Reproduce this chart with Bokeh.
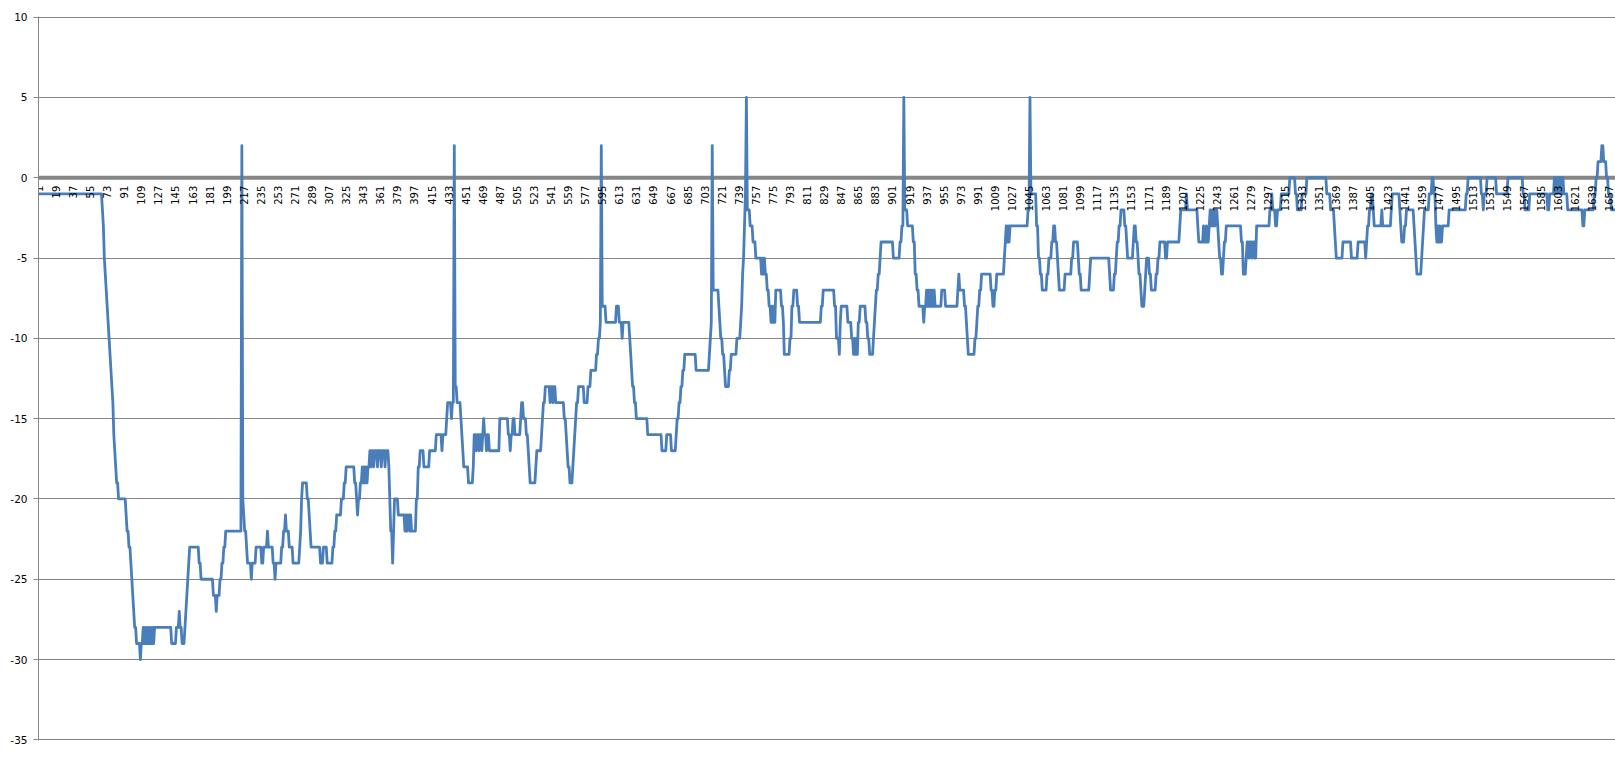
from math import pi

from bokeh.core.properties import value
from bokeh.embed import file_html
from bokeh.models import PrintfTickFormatter, Range1d, SingleIntervalTicker, Span
from bokeh.plotting import figure
from bokeh.resources import INLINE


# series: each value holds from its start category
# until the next start category (the data are whole numbers)
step_start = [
    1, 68, 69, 70, 71, 72, 73, 74, 75, 76, 77, 78, 79, 80, 81, 82, 83, 85, 93, 94,
    96, 98, 99, 100, 101, 102, 104, 108, 109, 111, 112, 113, 114, 115, 116, 117, 118, 119, 120, 121,
    122, 123, 141, 146, 149, 150, 152, 155, 156, 157, 158, 159, 160, 170, 172, 185, 188, 189, 192, 194,
    196, 198, 215, 216, 217, 218, 220, 221, 225, 226, 230, 236, 238, 242, 243, 248, 250, 251, 257, 259,
    261, 262, 265, 269, 276, 277, 278, 279, 284, 286, 287, 288, 298, 301, 305, 311, 313, 315, 320, 323,
    325, 334, 336, 337, 338, 340, 342, 343, 344, 345, 346, 347, 348, 350, 351, 352, 354, 355, 358, 359,
    362, 363, 366, 367, 370, 371, 372, 374, 375, 376, 380, 387, 388, 389, 390, 392, 393, 394, 399, 401,
    403, 407, 413, 420, 426, 427, 431, 432, 436, 437, 439, 440, 442, 446, 447, 448, 449, 454, 459, 460,
    462, 463, 465, 466, 468, 469, 470, 471, 473, 474, 476, 487, 496, 498, 499, 501, 503, 509, 510, 512,
    515, 517, 518, 519, 525, 526, 531, 532, 533, 535, 540, 541, 543, 544, 546, 555, 557, 558, 559, 561,
    564, 565, 566, 567, 568, 570, 576, 580, 583, 589, 591, 593, 594, 595, 599, 610, 613, 616, 617, 624,
    625, 626, 627, 629, 631, 643, 658, 663, 668, 673, 674, 676, 678, 680, 682, 694, 708, 709, 710, 711,
    712, 718, 719, 720, 722, 724, 725, 729, 731, 737, 741, 742, 743, 744, 745, 746, 747, 748, 751, 754,
    757, 763, 764, 765, 766, 767, 769, 771, 773, 774, 775, 776, 777, 778, 784, 786, 787, 793, 795, 797,
    801, 803, 826, 828, 840, 842, 845, 846, 847, 854, 858, 860, 861, 862, 863, 864, 865, 867, 873, 875,
    877, 881, 882, 883, 884, 886, 888, 889, 902, 909, 911, 913, 914, 917, 923, 925, 927, 929, 934, 935,
    937, 938, 939, 940, 941, 942, 943, 944, 945, 946, 953, 957, 970, 971, 972, 977, 979, 980, 981, 988,
    990, 991, 993, 995, 1005, 1007, 1009, 1011, 1019, 1020, 1021, 1022, 1023, 1024, 1025, 1044, 1046, 1047, 1053, 1055,
    1057, 1059, 1064, 1066, 1069, 1071, 1073, 1075, 1076, 1077, 1083, 1090, 1092, 1097, 1098, 1100, 1109, 1110, 1130, 1131,
    1135, 1137, 1138, 1140, 1142, 1146, 1148, 1149, 1155, 1156, 1158, 1160, 1161, 1163, 1164, 1167, 1168, 1169, 1172, 1174,
    1179, 1181, 1183, 1189, 1191, 1204, 1205, 1211, 1212, 1223, 1224, 1229, 1230, 1232, 1233, 1235, 1236, 1237, 1238, 1239,
    1240, 1241, 1242, 1244, 1245, 1246, 1248, 1250, 1251, 1253, 1269, 1271, 1274, 1275, 1277, 1278, 1280, 1281, 1283, 1285,
    1299, 1301, 1302, 1305, 1307, 1311, 1320, 1326, 1328, 1333, 1338, 1359, 1363, 1367, 1368, 1369, 1376, 1385, 1392, 1400,
    1401, 1402, 1404, 1406, 1408, 1409, 1417, 1418, 1427, 1428, 1436, 1437, 1438, 1441, 1443, 1451, 1452, 1453, 1454, 1459,
    1460, 1461, 1462, 1467, 1470, 1472, 1474, 1475, 1476, 1477, 1478, 1479, 1481, 1488, 1506, 1508, 1522, 1524, 1525, 1528,
    1538, 1550, 1566, 1568, 1573, 1592, 1594, 1599, 1601, 1603, 1605, 1606, 1607, 1608, 1609, 1613, 1629, 1631, 1641, 1643,
    1645, 1649, 1651, 1654, 1656, 1659,
]
step_value = [
    -1, -2, -3, -5, -6, -7, -8, -9, -10, -11, -12, -13, -14, -16, -17, -18, -19, -20, -21, -22,
    -23, -24, -25, -26, -27, -28, -29, -30, -29, -28, -29, -28, -29, -28, -29, -28, -29, -28, -29, -28,
    -29, -28, -29, -28, -27, -28, -29, -28, -27, -26, -25, -24, -23, -24, -25, -26, -27, -26, -25, -24,
    -23, -22, 2, -20, -21, -22, -23, -24, -25, -24, -23, -24, -23, -22, -23, -24, -25, -24, -23, -22,
    -21, -22, -23, -24, -23, -22, -20, -19, -20, -21, -22, -23, -24, -23, -24, -23, -22, -21, -20, -19,
    -18, -19, -20, -21, -20, -19, -18, -19, -18, -19, -18, -19, -18, -17, -18, -17, -18, -17, -18, -17,
    -18, -17, -18, -17, -18, -20, -22, -24, -22, -20, -21, -22, -21, -22, -21, -22, -21, -22, -20, -18,
    -17, -18, -17, -16, -17, -16, -15, -14, -15, -14, 2, -13, -14, -15, -16, -17, -18, -19, -18, -16,
    -17, -16, -17, -16, -17, -16, -15, -16, -17, -16, -17, -15, -16, -17, -16, -15, -16, -15, -14, -15,
    -16, -17, -18, -19, -18, -17, -16, -15, -14, -13, -14, -13, -14, -13, -14, -15, -16, -17, -18, -19,
    -18, -17, -16, -15, -14, -13, -14, -13, -12, -11, -10, -9, 2, -8, -9, -8, -9, -10, -9, -10,
    -11, -12, -13, -14, -15, -16, -17, -16, -17, -16, -15, -14, -13, -12, -11, -12, -11, -10, -9, 2,
    -7, -8, -9, -10, -11, -12, -13, -12, -11, -10, -9, -8, -6, -5, -3, -1, 5, -2, -3, -4,
    -5, -6, -5, -6, -5, -6, -7, -8, -9, -8, -9, -8, -9, -7, -8, -9, -11, -10, -8, -7,
    -8, -9, -8, -7, -8, -10, -11, -9, -8, -9, -10, -11, -10, -11, -10, -11, -9, -8, -9, -10,
    -11, -10, -9, -8, -7, -6, -5, -4, -5, -4, -3, 5, -2, -3, -4, -6, -7, -8, -9, -8,
    -7, -8, -7, -8, -7, -8, -7, -8, -7, -8, -7, -8, -7, -6, -7, -8, -9, -10, -11, -10,
    -9, -8, -7, -6, -7, -8, -7, -6, -5, -4, -3, -4, -3, -4, -3, -2, 5, -1, -3, -5,
    -6, -7, -6, -5, -4, -3, -4, -5, -6, -7, -6, -5, -4, -5, -6, -7, -6, -5, -6, -7,
    -6, -5, -4, -3, -2, -3, -4, -5, -4, -3, -4, -5, -6, -7, -8, -7, -6, -5, -6, -7,
    -6, -5, -4, -5, -4, -3, -2, -1, -2, -3, -4, -3, -4, -3, -4, -3, -2, -3, -2, -3,
    -2, -3, -2, -3, -4, -5, -6, -5, -4, -3, -4, -6, -5, -4, -5, -4, -5, -4, -5, -3,
    -2, -1, -2, -3, -2, -1, 0, -1, -2, -1, 0, -1, -2, -3, -4, -5, -4, -5, -4, -5,
    -4, -3, -2, -1, -2, -3, -2, -3, -2, -1, -2, -3, -4, -3, -2, -3, -4, -5, -6, -5,
    -4, -3, -2, -1, 0, -1, -3, -4, -3, -4, -3, -4, -3, -2, -1, 0, -1, -2, -1, 0,
    -1, 0, -1, -2, -1, -2, -1, 0, -1, 0, -1, 0, -1, 0, -1, -2, -3, -2, -1, 0,
    1, 2, 1, 0, -1, -2,
]
n_points = 1663
label_step = 18

categories = list(range(1, n_points + 1))
values = []
for i, start in enumerate(step_start):
    end = step_start[i + 1] if i + 1 < len(step_start) else n_points + 1
    values += [step_value[i]] * (end - start)

label_cats = categories[::label_step]
label_text = [str(c) for c in label_cats]

grey = "#868686"

p = figure(width=1615, height=771, output_backend="svg", toolbar_location=None,
           x_range=Range1d(0.58, 1663.4), y_range=Range1d(-35.04, 10.04),
           x_axis_location=None,
           min_border_left=38, min_border_right=0, min_border_top=16, min_border_bottom=31)

p.outline_line_color = None
p.background_fill_color = "white"
p.border_fill_color = "white"

ticker = SingleIntervalTicker(interval=5, num_minor_ticks=0)
p.yaxis.ticker = ticker
p.yaxis.formatter = PrintfTickFormatter(format="%d")
p.yaxis.axis_line_color = grey
p.yaxis.major_tick_line_color = grey
p.yaxis.major_tick_out = 5
p.yaxis.major_tick_in = 0
p.yaxis.minor_tick_line_color = None
p.yaxis.major_label_text_font = "DejaVu Sans"
p.yaxis.major_label_text_font_size = "10.5px"
p.yaxis.major_label_text_color = "black"
p.yaxis.major_label_standoff = 6

p.xgrid.visible = False
p.ygrid.ticker = ticker
p.ygrid.grid_line_color = grey

# the horizontal axis crosses at zero
p.add_layout(Span(location=0, dimension="width", line_color=grey, line_width=4, level="underlay"))

p.line(categories, values, line_color="#4a7ebb", line_width=2.8, line_join="round")

# category labels hang below the zero line, reading bottom to top
p.text(x=label_cats, y=[0] * len(label_cats), text=label_text, angle=pi / 2,
       text_align="right", text_baseline="middle", y_offset=8,
       text_font=value("DejaVu Sans"), text_font_size="10px", text_color="black")

open("out.html", "w").write(file_html(p, INLINE))
